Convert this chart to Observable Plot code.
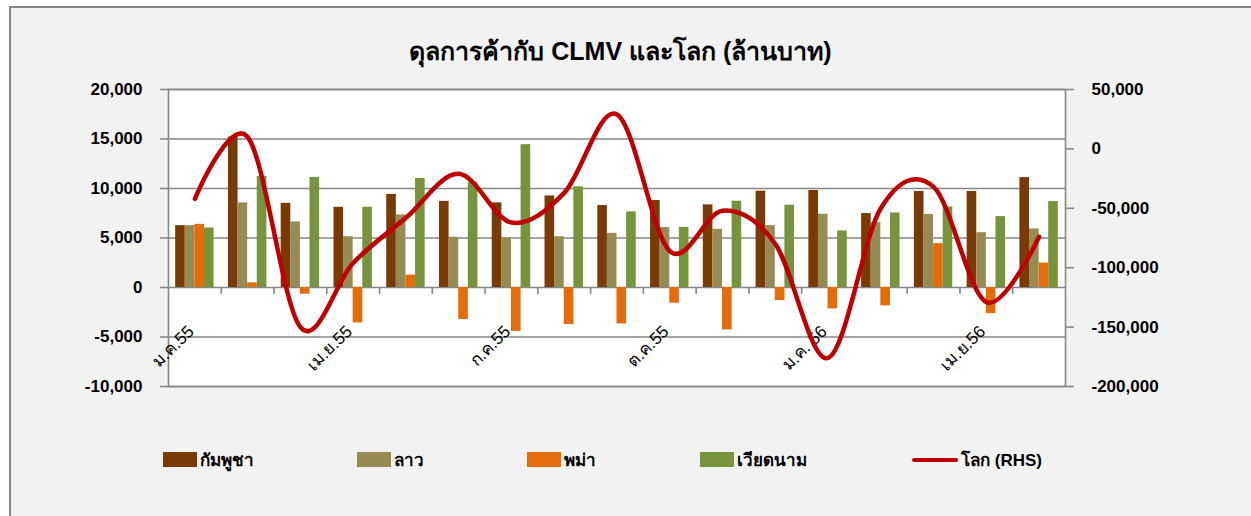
<!DOCTYPE html>
<html>
<head>
<meta charset="utf-8">
<script src="https://cdn.jsdelivr.net/npm/d3@7"></script>
<script src="https://cdn.jsdelivr.net/npm/@observablehq/plot@0.6"></script>
<style>
  html, body { margin: 0; padding: 0; background: #fff; overflow: hidden; width: 1251px; height: 516px; }
  body { font-family: "Liberation Sans", Arial, "Noto Sans", sans-serif; position: relative; }
  #box { position: absolute; left: 9px; top: 6px; width: 1260px; height: 520px; background: #f2f2f2;
         border-left: 2px solid #868686; border-top: 2px solid #868686; }
  #title { position: absolute; left: 0; top: 39px; width: 1241px; text-align: center; font-size: 25px;
           line-height: 25px; font-weight: bold; color: #000; }
  #chart { position: absolute; left: 0; top: 70px; }
  .lg { position: absolute; top: 450px; height: 19px; display: flex; align-items: center; font-size: 17px; font-weight: bold; color: #000; }
  .sw { width: 34px; height: 15px; margin-right: 3px; }
  .ln { width: 46px; height: 4px; border-radius: 2px; background: #c00000; margin-right: 3px; }
</style>
</head>
<body>
<div id="box"></div>
<div id="title">ดุลการค้ากับ CLMV และโลก (ล้านบาท)</div>
<div id="chart"></div>
<div id="legend"></div>
<script>
// ---- data ----
const months = ["ม.ค.55","ก.พ.55","มี.ค.55","เม.ย.55","พ.ค.55","มิ.ย.55","ก.ค.55","ส.ค.55","ก.ย.55",
                "ต.ค.55","พ.ย.55","ธ.ค.55","ม.ค. 56","ก.พ.56","มี.ค.56","เม.ย.56","พ.ค.56"];
const tickLabels = ["ม.ค.55","เม.ย.55","ก.ค.55","ต.ค.55","ม.ค. 56","เม.ย.56"];
const cambodia = [6250,15200,8500,8100,9400,8700,8550,9250,8280,8780,8350,9730,9800,7470,9700,9700,11100];
const laos     = [6250,8550,6620,5130,7330,5070,5000,5130,5470,6050,5880,6250,7400,6550,7370,5540,5910];
const myanmar  = [6380,470,-680,-3580,1250,-3240,-4430,-3750,-3680,-1590,-4290,-1320,-2160,-1860,4430,-2640,2470];
const vietnam  = [6010,11220,11120,8110,11010,10600,14430,10170,7640,6080,8720,8310,5710,7530,8140,7160,8680];
const world    = [-42000,10000,-150000,-96000,-58000,-21000,-62000,-37000,29000,-86000,-52000,-80000,-176000,-50000,-32000,-129000,-74000];
const seriesNames = ["กัมพูชา","ลาว","พม่า","เวียดนาม"];
const seriesColors = ["#7a3a06","#968b52","#e46c0a","#77933c"];
const lineName = "โลก (RHS)";
const lineColor = "#c00000";
const leftTicks = [-10000,-5000,0,5000,10000,15000,20000];
const rightTicks = [-200000,-150000,-100000,-50000,0,50000];
const leftDomain = [-10000, 20000];
const rightDomain = [-200000, 50000];

// ---- layout ----
const W = 1251, H = 360, mt = 19, mb = 44, ml = 168, mr = 186;
const bw = (W - ml - mr) / months.length;
const barW = bw * 0.182;
const pad = (bw - 4 * barW) / 2;
const plotH = H - mt - mb;
const zeroOffset = plotH * (0 - leftDomain[0]) / (leftDomain[1] - leftDomain[0]);

// map RHS values onto the left scale
const k = (leftDomain[1] - leftDomain[0]) / (rightDomain[1] - rightDomain[0]);
const toLeft = w => leftDomain[0] + (w - rightDomain[0]) * k;
const fromLeft = v => Math.round(rightDomain[0] + (v - leftDomain[0]) / k);
const fmt = v => Math.round(v).toLocaleString("en-US");

const series = [cambodia, laos, myanmar, vietnam];
const barMarks = series.map((vals, s) =>
  Plot.barY(vals.map((v, i) => ({month: months[i], value: v})), {
    x: "month", y: "value", fill: seriesColors[s],
    insetLeft: pad + s * barW, insetRight: bw - pad - (s + 1) * barW
  })
);
const worldRows = world.map((v, i) => ({month: months[i], value: v}));
const gray = "#868686";

const chart = Plot.plot({
  width: W, height: H,
  marginTop: mt, marginBottom: mb, marginLeft: ml, marginRight: mr,
  style: {background: "transparent", overflow: "visible", fontFamily: '"Liberation Sans", Arial, sans-serif', color: "#000"},
  x: {type: "band", domain: months, padding: 0, round: false, axis: null},
  y: {domain: leftDomain, axis: null},
  marks: [
    Plot.frame({fill: "white"}),
    Plot.gridY(leftTicks, {stroke: gray, strokeOpacity: 1, strokeWidth: 1.6}),
    Plot.frame({stroke: gray, strokeWidth: 1.6}),
    ...barMarks,
    Plot.axisX(months.slice(1), {anchor: "bottom", tickSize: 7, dx: -bw / 2, dy: -zeroOffset,
      tickFormat: () => "", label: null, stroke: gray, strokeWidth: 1.6}),
    Plot.axisY(leftTicks, {anchor: "left", tickSize: 8, tickPadding: 18, tickFormat: fmt, label: null,
      stroke: gray, strokeWidth: 1.6, fontSize: 17, fontWeight: "bold", fill: "#000"}),
    Plot.axisY(rightTicks.map(toLeft), {anchor: "right", tickSize: 8, tickPadding: 18, label: null,
      tickFormat: v => fmt(fromLeft(v)), stroke: gray, strokeWidth: 1.6, fontSize: 17, fontWeight: "bold", fill: "#000"}),
    Plot.text(tickLabels, {x: d => d, text: d => d, frameAnchor: "bottom", dy: -54, rotate: -45,
      textAnchor: "end", fontSize: 17, fill: "#000"}),
    Plot.line(worldRows, {x: "month", y: d => toLeft(d.value), stroke: lineColor, strokeWidth: 4.5,
      curve: "cardinal", tension: 0, strokeLinecap: "round", strokeLinejoin: "round"})
  ]
});
document.getElementById("chart").appendChild(chart);

// legend
const legendX = [163, 357, 527, 700];
const lg = document.getElementById("legend");
seriesNames.forEach((n, i) => {
  const d = document.createElement("div");
  d.className = "lg"; d.style.left = legendX[i] + "px";
  d.innerHTML = `<span class="sw" style="background:${seriesColors[i]}"></span><span>${n}</span>`;
  lg.appendChild(d);
});
const dl = document.createElement("div");
dl.className = "lg"; dl.style.left = "912px";
dl.innerHTML = `<span class="ln"></span><span>${lineName}</span>`;
lg.appendChild(dl);
</script>
</body>
</html>
